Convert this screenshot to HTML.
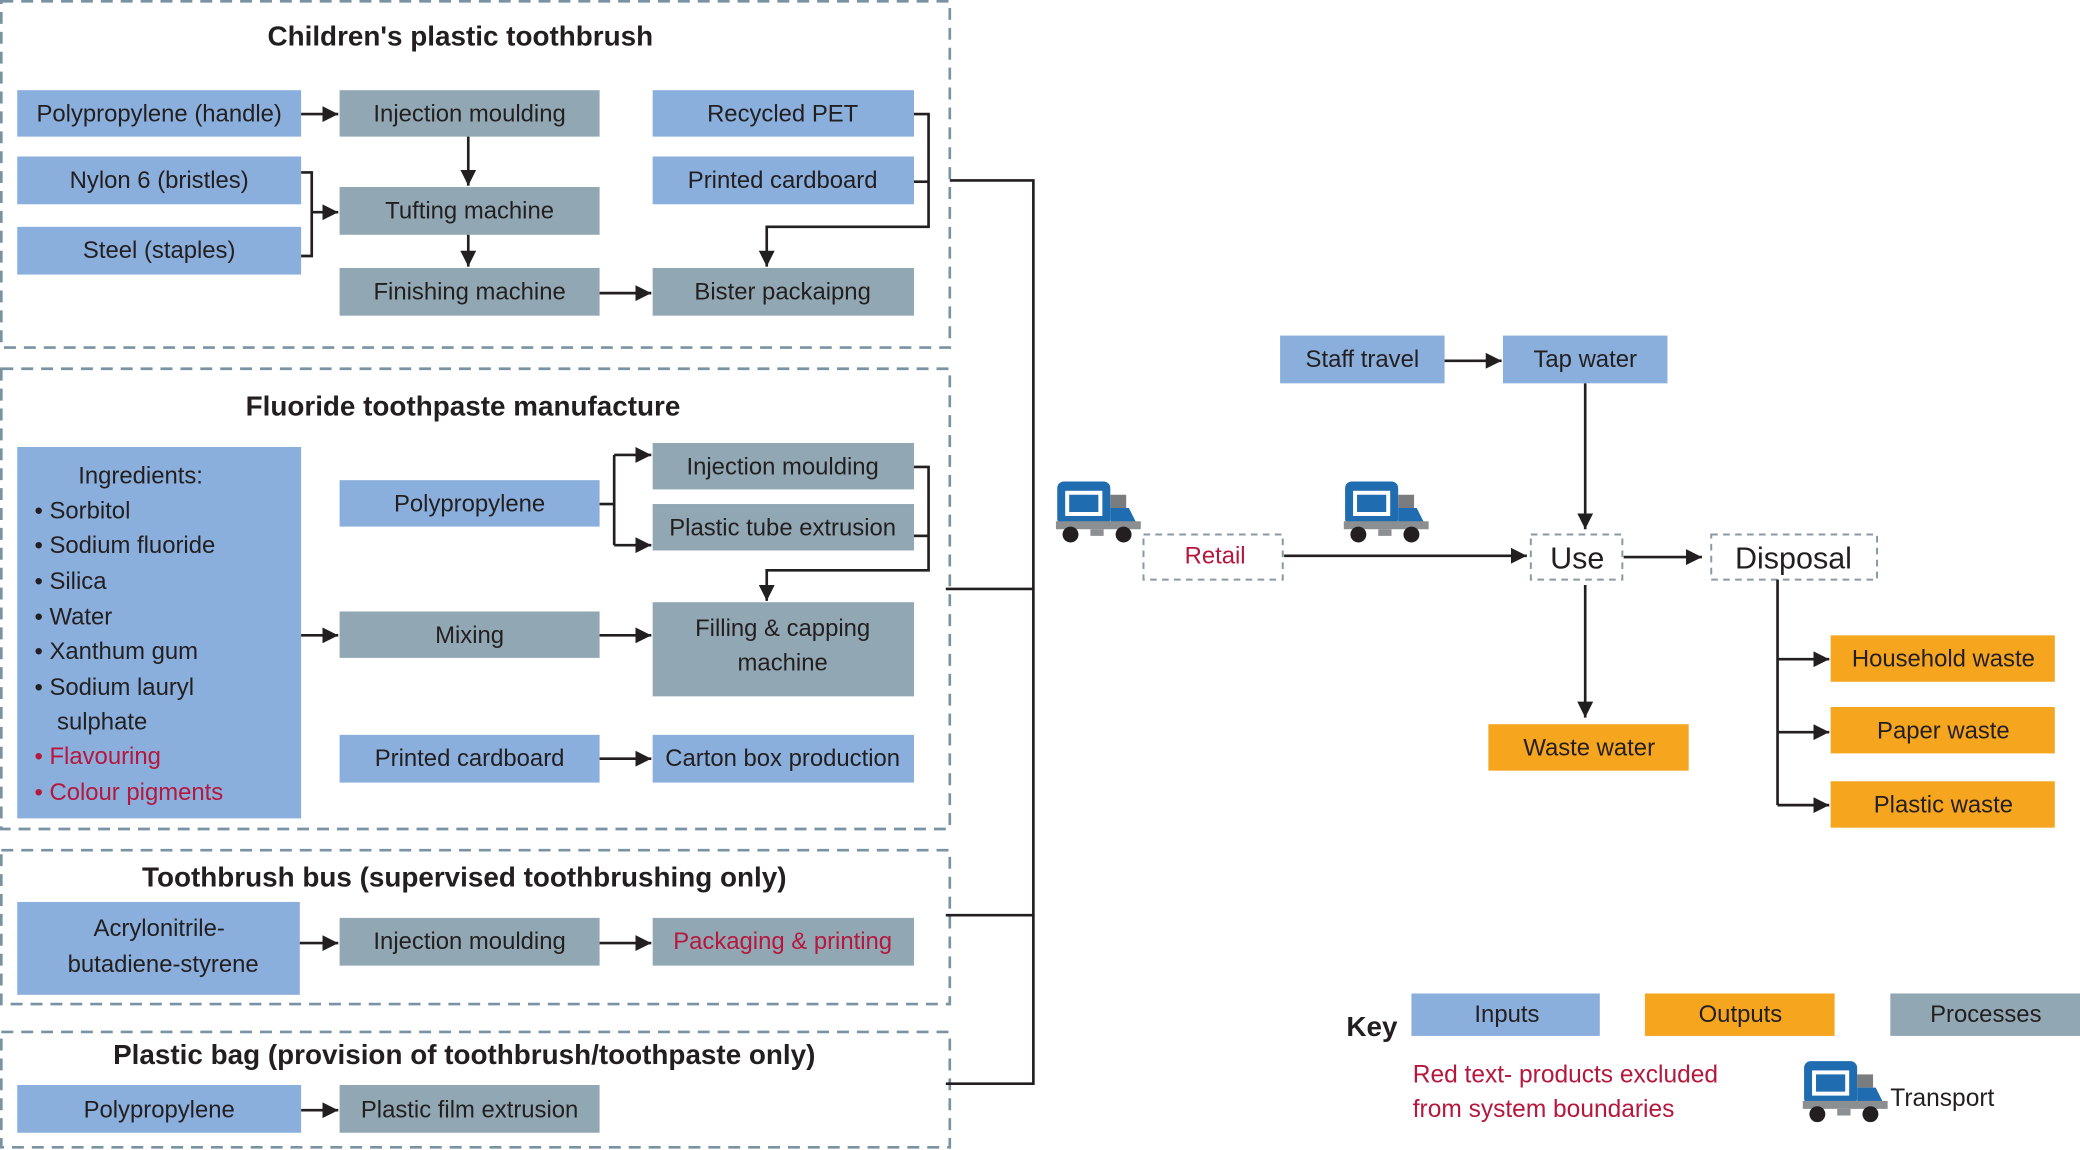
<!DOCTYPE html>
<html><head><meta charset="utf-8"><style>
html,body{margin:0;padding:0;background:#fff;}
svg{display:block;}
text{font-family:"Liberation Sans Narrow","Liberation Sans",sans-serif;fill:#231f20;}
.t{font-size:18px;text-anchor:middle;dominant-baseline:central;}
.h{font-size:21px;font-weight:bold;text-anchor:middle;dominant-baseline:central;}
.r{fill:#b5173d;}
.in{fill:#8aafdc;}
.pr{fill:#91a8b4;}
.out{fill:#f6a51f;}
.sec{fill:none;stroke:#7a93a3;stroke-width:2;stroke-dasharray:9,6;}
.dn{fill:#fff;stroke:#8a9aa3;stroke-width:1.5;stroke-dasharray:5,4;}
.ln{fill:none;stroke:#231f20;stroke-width:2;}
</style></head><body>
<svg width="2080" height="1150" viewBox="0 0 1568 867" preserveAspectRatio="none" xmlns="http://www.w3.org/2000/svg">
<defs>
<marker id="a" viewBox="0 0 10 10" refX="10" refY="5" markerWidth="6" markerHeight="6" orient="auto"><path d="M0,0L10,5L0,10z" fill="#231f20"/></marker>
<g id="truck">
<rect x="0" y="0" width="40" height="33" rx="5" fill="#1f6db0"/>
<rect x="6" y="7" width="28" height="19" fill="#fff"/>
<rect x="9" y="10" width="22" height="13" fill="#1f6db0"/>
<rect x="40" y="10" width="12" height="10" fill="#7a7d80"/>
<path d="M40,20L54,20L60,32L40,32z" fill="#1f6db0"/>
<rect x="-1" y="30" width="64" height="6" fill="#8c8f92"/>
<circle cx="10" cy="40" r="6" fill="#231f20"/>
<circle cx="50" cy="40" r="6" fill="#231f20"/>
<rect x="25" y="36" width="10" height="5" fill="#8c8f92"/>
</g>
</defs>

<rect class="sec" x="1" y="1" width="715" height="261"/>
<text class="h" x="347" y="27">Children's plastic toothbrush</text>
<rect class="in" x="13" y="68" width="214" height="35"/><text class="t" x="120" y="86">Polypropylene (handle)</text>
<rect class="pr" x="256" y="68" width="196" height="35"/><text class="t" x="354" y="86">Injection moulding</text>
<rect class="in" x="492" y="68" width="197" height="35"/><text class="t" x="590" y="86">Recycled PET</text>
<rect class="in" x="13" y="118" width="214" height="36"/><text class="t" x="120" y="136">Nylon 6 (bristles)</text>
<rect class="in" x="492" y="118" width="197" height="36"/><text class="t" x="590" y="136">Printed cardboard</text>
<rect class="pr" x="256" y="141" width="196" height="36"/><text class="t" x="354" y="159">Tufting machine</text>
<rect class="in" x="13" y="171" width="214" height="36"/><text class="t" x="120" y="189">Steel (staples)</text>
<rect class="pr" x="256" y="202" width="196" height="36"/><text class="t" x="354" y="220">Finishing machine</text>
<rect class="pr" x="492" y="202" width="197" height="36"/><text class="t" x="590" y="220">Bister packaipng</text>
<path class="ln" d="M227,86H255" marker-end="url(#a)"/>
<path class="ln" d="M353,103V140" marker-end="url(#a)"/>
<path class="ln" d="M353,177V201" marker-end="url(#a)"/>
<path class="ln" d="M227,130H235V193H227"/>
<path class="ln" d="M235,160H255" marker-end="url(#a)"/>
<path class="ln" d="M452,221H491" marker-end="url(#a)"/>
<path class="ln" d="M689,86H700V171H578V201" marker-end="url(#a)"/>
<path class="ln" d="M689,137H700"/>

<rect class="sec" x="1" y="278" width="715" height="347"/>
<text class="h" x="349" y="306">Fluoride toothpaste manufacture</text>
<rect class="in" x="13" y="337" width="214" height="280"/>
<text class="t" x="106" y="359">Ingredients:</text>
<g style="font-size:18px">
<text x="26" y="391">• Sorbitol</text>
<text x="26" y="417">• Sodium fluoride</text>
<text x="26" y="444">• Silica</text>
<text x="26" y="471">• Water</text>
<text x="26" y="497">• Xanthum gum</text>
<text x="26" y="524">• Sodium lauryl</text>
<text x="43" y="550">sulphate</text>
<text class="r" x="26" y="576">• Flavouring</text>
<text class="r" x="26" y="603">• Colour pigments</text>
</g>
<rect class="in" x="256" y="362" width="196" height="35"/><text class="t" x="354" y="380">Polypropylene</text>
<rect class="pr" x="492" y="334" width="197" height="35"/><text class="t" x="590" y="352">Injection moulding</text>
<rect class="pr" x="492" y="380" width="197" height="35"/><text class="t" x="590" y="398">Plastic tube extrusion</text>
<rect class="pr" x="256" y="461" width="196" height="35"/><text class="t" x="354" y="479">Mixing</text>
<rect class="pr" x="492" y="454" width="197" height="71"/><text class="t" x="590" y="474">Filling &amp; capping</text><text class="t" x="590" y="500">machine</text>
<rect class="in" x="256" y="554" width="196" height="36"/><text class="t" x="354" y="572">Printed cardboard</text>
<rect class="in" x="492" y="554" width="197" height="36"/><text class="t" x="590" y="572">Carton box production</text>
<path class="ln" d="M452,380H463"/>
<path class="ln" d="M463,343V411"/>
<path class="ln" d="M463,343H491" marker-end="url(#a)"/>
<path class="ln" d="M463,411H491" marker-end="url(#a)"/>
<path class="ln" d="M689,352H700V430H578V453" marker-end="url(#a)"/>
<path class="ln" d="M689,404H700"/>
<path class="ln" d="M227,479H255" marker-end="url(#a)"/>
<path class="ln" d="M452,479H491" marker-end="url(#a)"/>
<path class="ln" d="M452,572H491" marker-end="url(#a)"/>

<rect class="sec" x="1" y="641" width="715" height="116"/>
<text class="h" x="350" y="661">Toothbrush bus (supervised toothbrushing only)</text>
<rect class="in" x="13" y="680" width="213" height="70"/><text class="t" x="120" y="700">Acrylonitrile-</text><text class="t" x="123" y="727">butadiene-styrene</text>
<rect class="pr" x="256" y="692" width="196" height="36"/><text class="t" x="354" y="710">Injection moulding</text>
<rect class="pr" x="492" y="692" width="197" height="36"/><text class="t r" x="590" y="710">Packaging &amp; printing</text>
<path class="ln" d="M226,711H255" marker-end="url(#a)"/>
<path class="ln" d="M452,711H491" marker-end="url(#a)"/>

<rect class="sec" x="1" y="778" width="715" height="87"/>
<text class="h" x="350" y="795">Plastic bag (provision of toothbrush/toothpaste only)</text>
<rect class="in" x="13" y="818" width="214" height="36"/><text class="t" x="120" y="837">Polypropylene</text>
<rect class="pr" x="256" y="818" width="196" height="36"/><text class="t" x="354" y="837">Plastic film extrusion</text>
<path class="ln" d="M227,837H255" marker-end="url(#a)"/>

<path class="ln" d="M716,136H779V817H713"/>
<path class="ln" d="M713,444H779"/>
<path class="ln" d="M713,690H779"/>

<use href="#truck" x="797" y="363"/>
<use href="#truck" x="1014" y="363"/>
<rect class="in" x="965" y="253" width="124" height="36"/><text class="t" x="1027" y="271">Staff travel</text>
<rect class="in" x="1133" y="253" width="124" height="36"/><text class="t" x="1195" y="271">Tap water</text>
<path class="ln" d="M1089,272H1132" marker-end="url(#a)"/>
<path class="ln" d="M1195,289V399" marker-end="url(#a)"/>
<rect class="dn" x="862" y="403" width="105" height="34"/><text class="t r" x="916" y="419">Retail</text>
<rect class="dn" x="1154" y="403" width="69" height="34"/><text class="t" x="1189" y="421" style="font-size:23px">Use</text>
<rect class="dn" x="1290" y="403" width="125" height="34"/><text class="t" x="1352" y="421" style="font-size:23px">Disposal</text>
<path class="ln" d="M968,419H1151" marker-end="url(#a)"/>
<path class="ln" d="M1224,420H1283" marker-end="url(#a)"/>
<path class="ln" d="M1195,441V541" marker-end="url(#a)"/>
<rect class="out" x="1122" y="546" width="151" height="35"/><text class="t" x="1198" y="564">Waste water</text>
<path class="ln" d="M1340,437V607"/>
<path class="ln" d="M1340,497H1379" marker-end="url(#a)"/>
<path class="ln" d="M1340,552H1379" marker-end="url(#a)"/>
<path class="ln" d="M1340,607H1379" marker-end="url(#a)"/>
<rect class="out" x="1380" y="479" width="169" height="35"/><text class="t" x="1465" y="497">Household waste</text>
<rect class="out" x="1380" y="533" width="169" height="35"/><text class="t" x="1465" y="551">Paper waste</text>
<rect class="out" x="1380" y="589" width="169" height="35"/><text class="t" x="1465" y="607">Plastic waste</text>

<text x="1015" y="781" style="font-size:21px;font-weight:bold">Key</text>
<rect class="in" x="1064" y="749" width="142" height="32"/><text class="t" x="1136" y="765">Inputs</text>
<rect class="out" x="1240" y="749" width="143" height="32"/><text class="t" x="1312" y="765">Outputs</text>
<rect class="pr" x="1425" y="749" width="143" height="32"/><text class="t" x="1497" y="765">Processes</text>
<text class="r" x="1065" y="816" style="font-size:18.5px">Red text- products excluded</text>
<text class="r" x="1065" y="842" style="font-size:18.5px">from system boundaries</text>
<use href="#truck" x="1360" y="800"/>
<text x="1425" y="834" style="font-size:18.5px">Transport</text>
</svg>
</body></html>
